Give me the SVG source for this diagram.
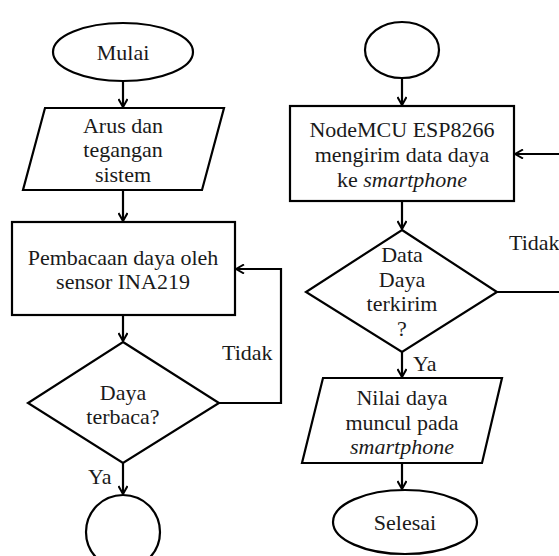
<svg xmlns="http://www.w3.org/2000/svg" width="559" height="556" viewBox="0 0 559 556" font-family="Liberation Serif, Times New Roman, serif">
<defs>
<marker id="arr" viewBox="0 0 10 10" refX="9" refY="5" markerWidth="10" markerHeight="10" markerUnits="userSpaceOnUse" orient="auto">
<path d="M1,0.5 L9,5 L1,9.5" fill="none" stroke="#000" stroke-width="2"/>
</marker>
<style>
.s{fill:#fff;stroke:#000;stroke-width:2.2}
.c{fill:none;stroke:#000;stroke-width:2.2;marker-end:url(#arr)}
text{font-family:'Liberation Serif','Times New Roman',serif;font-size:22px;fill:#1a1a1a}
.m{text-anchor:middle}
</style>
</defs>
<rect width="559" height="556" fill="#fff"/>
<g id="connectors">
<path class="c" d="M123,81 V107"/>
<path class="c" d="M123,190 V221"/>
<path class="c" d="M123,315 V341"/>
<path class="c" d="M123,463 V494"/>
<path class="c" d="M219,403 H281 V269 H236"/>
<path class="c" d="M402,78 V105"/>
<path class="c" d="M402,201 V229"/>
<path class="c" d="M497,292 H562 V154 H515"/>
<path class="c" d="M402,351 V377"/>
<path class="c" d="M402,463 V489"/>
</g>
<g id="mulai">
<ellipse class="s" cx="123" cy="52" rx="70" ry="29"/>
<text class="m" x="123" y="60">Mulai</text>
</g>
<g id="input1">
<polygon class="s" points="45,108 224,108 202,190 23,190"/>
<text class="m" x="123" y="133">Arus dan</text>
<text class="m" x="123" y="157">tegangan</text>
<text class="m" x="123" y="182">sistem</text>
</g>
<g id="baca">
<rect class="s" x="12" y="222" width="223" height="93"/>
<text class="m" x="123" y="265">Pembacaan daya oleh</text>
<text class="m" x="123" y="289">sensor INA219</text>
</g>
<g id="cek1">
<polygon class="s" points="123,342 219,403 123,463 28,403"/>
<text class="m" x="123" y="400">Daya</text>
<text class="m" x="123" y="424">terbaca?</text>
</g>
<g id="label-tidak1"><text x="222" y="360">Tidak</text></g>
<g id="label-ya1"><text x="88" y="484">Ya</text></g>
<g id="konektor1">
<ellipse class="s" cx="123" cy="532" rx="37" ry="37"/>
</g>
<g id="konektor2">
<ellipse class="s" cx="402" cy="50" rx="37" ry="28"/>
</g>
<g id="kirim">
<rect class="s" x="290" y="106" width="224" height="95"/>
<text class="m" x="402" y="137">NodeMCU ESP8266</text>
<text class="m" x="402" y="162">mengirim data daya</text>
<text class="m" x="402" y="187">ke <tspan font-style="italic">smartphone</tspan></text>
</g>
<g id="cek2">
<polygon class="s" points="402,230 497,292 402,352 306,292"/>
<text class="m" x="402" y="262">Data</text>
<text class="m" x="402" y="287">Daya</text>
<text class="m" x="402" y="311">terkirim</text>
<text class="m" x="402" y="336">?</text>
</g>
<g id="label-tidak2"><text x="509" y="250">Tidak</text></g>
<g id="label-ya2"><text x="413" y="371">Ya</text></g>
<g id="output">
<polygon class="s" points="323,378 502,378 482,463 302,463"/>
<text class="m" x="402" y="405">Nilai daya</text>
<text class="m" x="402" y="430">muncul pada</text>
<text class="m" x="402" y="454" font-style="italic">smartphone</text>
</g>
<g id="selesai">
<ellipse class="s" cx="405" cy="522" rx="72" ry="32"/>
<text class="m" x="405" y="530">Selesai</text>
</g>
</svg>
